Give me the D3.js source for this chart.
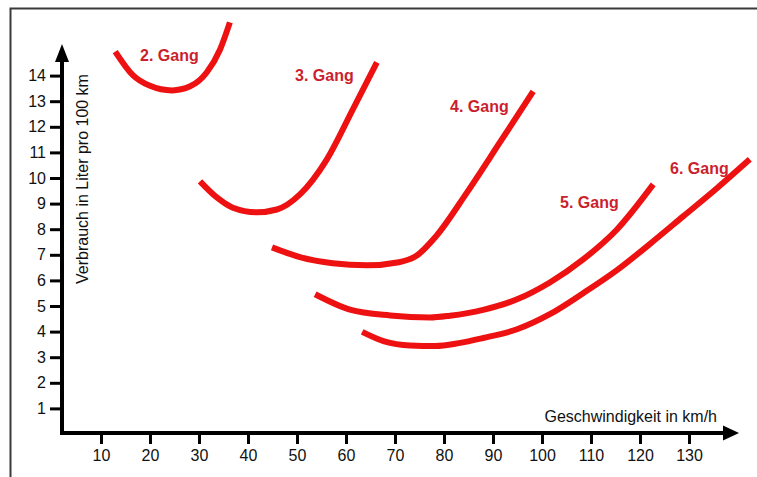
<!DOCTYPE html>
<html>
<head>
<meta charset="utf-8">
<script src="https://cdn.jsdelivr.net/npm/d3@7"></script>
<style>
  html, body { margin: 0; padding: 0; background: #fff; }
  svg { display: block; }
  text { font-family: "Liberation Sans", Arial, sans-serif; }
</style>
</head>
<body>
<svg id="chart" width="757" height="477"></svg>
<script>
// ---- Data ----
const xTicks = [10, 20, 30, 40, 50, 60, 70, 80, 90, 100, 110, 120, 130];
const yTicks = [1, 2, 3, 4, 5, 6, 7, 8, 9, 10, 11, 12, 13, 14];

const gang2Speed = [12.9, 16.5, 20.0, 24.5, 28.2, 31.6, 34.3, 36.3];
const gang2Cons  = [14.94, 14.02, 13.60, 13.42, 13.58, 14.13, 15.02, 16.08];

const gang3Speed = [30.2, 33.7, 36.9, 41.8, 45.9, 50.6, 56.1, 61.4, 66.3];
const gang3Cons  = [9.87, 9.23, 8.84, 8.66, 8.77, 9.36, 10.73, 12.68, 14.52];

const gang4Speed = [44.9, 50.6, 57.3, 64.3, 70.8, 74.3, 78.4, 84.7, 91.4, 98.2];
const gang4Cons  = [7.29, 6.91, 6.67, 6.59, 6.71, 6.95, 7.73, 9.44, 11.39, 13.38];

const gang5Speed = [53.7, 60.8, 69.0, 77.1, 81.2, 88.0, 94.9, 101.6, 108.4, 115.3, 122.7];
const gang5Cons  = [5.46, 4.86, 4.63, 4.55, 4.62, 4.85, 5.26, 5.92, 6.82, 7.99, 9.75];

const gang6Speed = [63.3, 67.8, 73.1, 78.2, 83.0, 88.0, 94.9, 101.6, 108.4, 115.3, 122.0, 128.8, 135.7, 142.4];
const gang6Cons  = [3.99, 3.62, 3.46, 3.44, 3.55, 3.75, 4.09, 4.68, 5.50, 6.40, 7.42, 8.50, 9.60, 10.73];

const gangLabels = ["2. Gang", "3. Gang", "4. Gang", "5. Gang", "6. Gang"];
const xTitle = "Geschwindigkeit in km/h";
const yTitle = "Verbrauch in Liter pro 100 km";

// ---- Layout ----
const svg = d3.select("#chart");
const x = d3.scaleLinear().domain([10, 130]).range([101, 689]);
const y = d3.scaleLinear().domain([0, 14]).range([434, 75.6]);

const originX = 62, originY = 433;
const red = "#ee1111";
const labelRed = "#cc1f2e";

// Frame (top and left border)
svg.append("path")
  .attr("d", "M10.5,477 L10.5,8.5 L757,8.5")
  .attr("fill", "none").attr("stroke", "#3a3a3a").attr("stroke-width", 2);

// ---- Axes ----
const xAxis = d3.axisBottom(x).tickValues(xTicks).tickSize(11).tickPadding(6);
const gx = svg.append("g").attr("transform", `translate(0,${originY})`).call(xAxis);
gx.select(".domain").remove();
gx.selectAll(".tick line").attr("stroke", "#000").attr("stroke-width", 3);
gx.selectAll(".tick text").attr("font-size", 16).attr("fill", "#111")
  .attr("font-family", "Liberation Sans, Arial, sans-serif");

const yAxis = d3.axisLeft(y).tickValues(yTicks).tickSize(12).tickPadding(4);
const gy = svg.append("g").attr("transform", `translate(${originX},0)`).call(yAxis);
gy.select(".domain").remove();
gy.selectAll(".tick line").attr("stroke", "#000").attr("stroke-width", 3);
gy.selectAll(".tick text").attr("font-size", 16).attr("fill", "#111")
  .attr("font-family", "Liberation Sans, Arial, sans-serif");

// Axis lines with arrows
svg.append("line").attr("x1", originX - 2).attr("y1", originY)
  .attr("x2", 724).attr("y2", originY)
  .attr("stroke", "#000").attr("stroke-width", 4);
svg.append("path").attr("d", `M723,${originY - 7.5} L739,${originY} L723,${originY + 7.5} Z`)
  .attr("fill", "#000");

svg.append("line").attr("x1", originX).attr("y1", originY + 2)
  .attr("x2", originX).attr("y2", 60)
  .attr("stroke", "#000").attr("stroke-width", 4);
svg.append("path").attr("d", `M${originX - 7},62 L${originX},44 L${originX + 7},62 Z`)
  .attr("fill", "#000");

// Axis titles
svg.append("text").attr("x", 717).attr("y", 422).attr("text-anchor", "end")
  .attr("font-size", 16).attr("fill", "#111").text(xTitle);
svg.append("text").attr("transform", "translate(88,179) rotate(-90)")
  .attr("text-anchor", "middle").attr("font-size", 16).attr("fill", "#111").text(yTitle);

// ---- Curves ----
const series = [
  { s: gang2Speed, c: gang2Cons },
  { s: gang3Speed, c: gang3Cons },
  { s: gang4Speed, c: gang4Cons },
  { s: gang5Speed, c: gang5Cons },
  { s: gang6Speed, c: gang6Cons }
];
const line = d3.line().x(d => x(d[0])).y(d => y(d[1])).curve(d3.curveMonotoneX);
series.forEach(sr => {
  const pts = sr.s.map((v, i) => [v, sr.c[i]]);
  svg.append("path").attr("d", line(pts))
    .attr("fill", "none").attr("stroke", red).attr("stroke-width", 6)
    .attr("stroke-linecap", "butt").attr("stroke-linejoin", "round");
});

// ---- Gear labels ----
const labelPos = [[140, 61], [295, 81], [450, 112], [560, 208], [670, 174]];
gangLabels.forEach((t, i) => {
  svg.append("text").attr("x", labelPos[i][0]).attr("y", labelPos[i][1])
    .attr("font-size", 16).attr("font-weight", "bold").attr("fill", labelRed).text(t);
});
</script>
</body>
</html>
